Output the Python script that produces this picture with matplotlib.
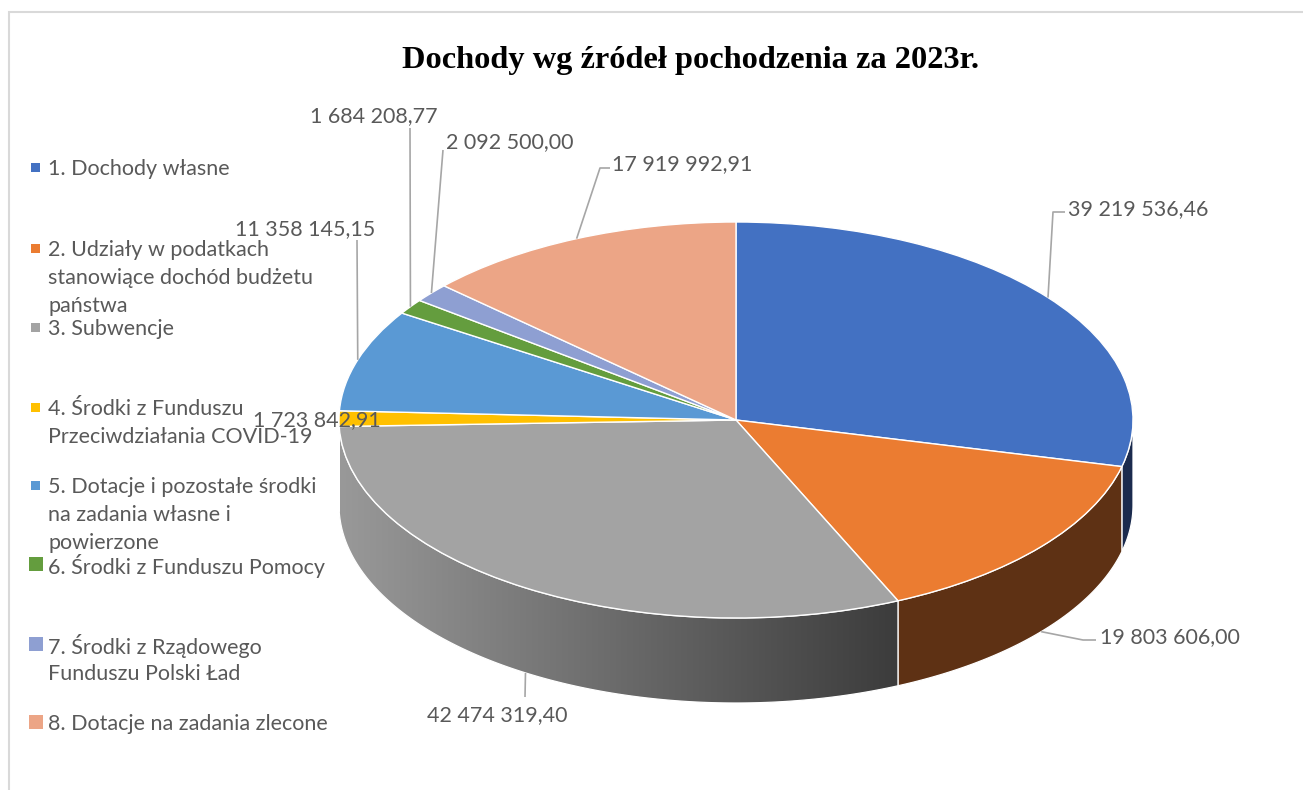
import numpy as np
import matplotlib
matplotlib.use("Agg")
import matplotlib.pyplot as plt
from matplotlib.patches import Polygon, Rectangle
from matplotlib.colors import LinearSegmentedColormap

# ---------------- data ----------------
title = "Dochody wg źródeł pochodzenia za 2023r."
categories = [
    "1. Dochody własne",
    "2. Udziały w podatkach\nstanowiące dochód budżetu\npaństwa",
    "3. Subwencje",
    "4. Środki z Funduszu\nPrzeciwdziałania COVID-19",
    "5. Dotacje i pozostałe środki\nna zadania własne i\npowierzone",
    "6. Środki z Funduszu Pomocy",
    "7. Środki z Rządowego\nFunduszu Polski Ład",
    "8. Dotacje na zadania zlecone",
]
values = [39219536.46, 19803606.00, 42474319.40, 1723842.91,
          11358145.15, 1684208.77, 2092500.00, 17919992.91]
top_colors = ["#4371C2", "#EB7C31", "#A3A3A3", "#FFC000",
              "#5A99D4", "#649D3E", "#8E9FD2", "#ECA586"]
side_colors = ["#1B2B4E", "#5E3114", None, "#7F6000",
               "#2D4D6A", "#32501F", "#475069", "#765243"]
legend_marker_px = [9, 9, 9, 9, 9, 14, 14, 14]


def fmt(v):
    return f"{v:,.2f}".replace(",", " ").replace(".", ",")


value_labels = [fmt(v) for v in values]

# ---------------- layout (pixels) ----------------
W, H = 1303, 790
cx, cy, rx, ry = 736, 420, 397, 198
depth_px = 85
text_col = "#595959"
lead_col = "#A6A6A6"
FONT = "Lato"
FS = 15.5
LINE_PX = 28


def P(xp, yp):
    return ((xp - cx) / rx, (cy - yp) / ry)


fig = plt.figure(figsize=(W / 100, H / 100), dpi=100)
ax = fig.add_axes([0, 0, 1, 1])

wedges, _ = ax.pie(values, colors=top_colors, startangle=90, counterclock=False,
                   radius=1.0,
                   wedgeprops=dict(edgecolor="white", linewidth=1.0, zorder=3))
ax.set_aspect("auto")
depth = depth_px / ry

# side walls (visible front half: angles -180..0)
grad_cmap = LinearSegmentedColormap.from_list("g", ["#999999", "#3C3C3C"])
for w, sc in zip(wedges, side_colors):
    lo = max(w.theta1, -180.0)
    hi = min(w.theta2, 0.0)
    if hi <= lo:
        continue
    a = np.radians(np.linspace(lo, hi, 300))
    top = np.column_stack([np.cos(a), np.sin(a)])
    bot = np.column_stack([np.cos(a[::-1]), np.sin(a[::-1]) - depth])
    verts = np.vstack([top, bot])
    if sc is None:
        clip = Polygon(verts, closed=True, facecolor="none", edgecolor="none")
        ax.add_patch(clip)
        grad = np.linspace(0, 1, 256).reshape(1, -1)
        im = ax.imshow(grad, cmap=grad_cmap, aspect="auto", interpolation="bilinear",
                       extent=(np.cos(a).min(), np.cos(a).max(), -1 - depth, 0),
                       zorder=2)
        im.set_clip_path(clip)
        ax.add_patch(Polygon(verts, closed=True, facecolor="none",
                             edgecolor="white", lw=0.9, zorder=2.5))
    else:
        ax.add_patch(Polygon(verts, closed=True, facecolor=sc,
                             edgecolor="white", lw=0.9, zorder=2))


def anchor(w):
    m = np.radians((w.theta1 + w.theta2) / 2)
    x, y = np.cos(m), np.sin(m)
    if y < 0:
        y -= depth
    return x, y


# data labels: (text x px, text y px, ha, leader pixel path after anchor)
label_layout = [
    (1068, 207, "left", [(1053, 212), (1065, 212)]),
    (1100, 635, "left", [(1083, 640), (1096, 640)]),
    (497, 713, "center", [(525, 697)]),
    (253, 418, "left", None),
    (235, 227, "left", [(357, 240)]),
    (310, 114, "left", [(410, 128)]),
    (446, 140, "left", [(443, 150)]),
    (612, 162, "left", [(600, 168), (610, 168)]),
]
for w, lab, (tx, ty, ha, path) in zip(wedges, value_labels, label_layout):
    if path is not None:
        pts = [anchor(w)] + [P(*p) for p in path]
        xs, ys = zip(*pts)
        ax.plot(xs, ys, color=lead_col, lw=1.2, zorder=4, solid_capstyle="butt")
    ax.text(*P(tx, ty), lab, ha=ha, va="center_baseline", fontsize=FS,
            family=FONT, color=text_col, zorder=5)

# legend (manual)
leg_y = [167, 248, 327, 407, 485, 564, 644, 722]
for cat, col, yy, ms in zip(categories, top_colors, leg_y, legend_marker_px):
    x0, y0 = P(35.5 - ms / 2, yy + ms / 2)
    ax.add_patch(Rectangle((x0, y0), ms / rx, ms / ry, facecolor=col,
                           edgecolor="none", zorder=5))
    for i, line in enumerate(cat.split("\n")):
        ax.text(*P(48, yy + i * LINE_PX), line, ha="left", va="center_baseline",
                fontsize=FS, family=FONT, color=text_col, zorder=5)

# title
ax.text(*P(690, 57), title, ha="center", va="center_baseline", fontsize=23.3,
        family="Liberation Serif", fontweight="bold", color="black")

ax.set_xlim(-cx / rx, (W - cx) / rx)
ax.set_ylim(-(H - cy) / ry, cy / ry)
ax.axis("off")

fig.add_artist(Rectangle((9 / W, -0.1), 1.2, (H - 12) / H + 0.1,
                         transform=fig.transFigure, fill=False,
                         edgecolor="#D9D9D9", lw=1.5))

fig.savefig("out.png", dpi=100, facecolor="white")
